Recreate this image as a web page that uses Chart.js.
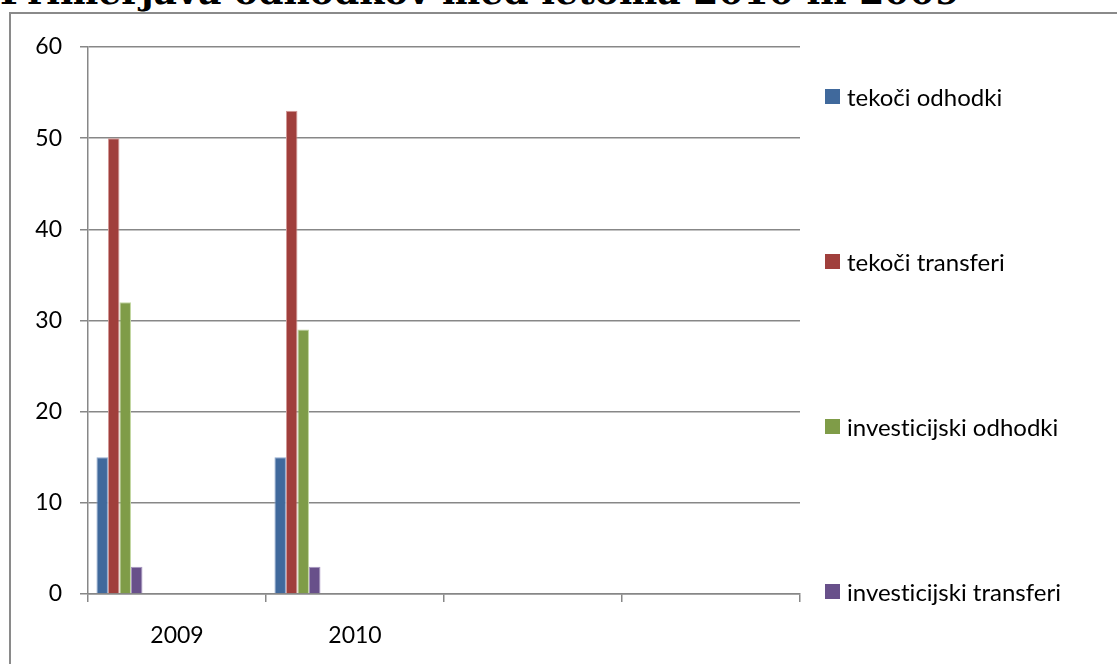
<!DOCTYPE html>
<html>
<head>
<meta charset="utf-8">
<script src="https://cdn.jsdelivr.net/npm/chart.js@4.4.1/dist/chart.umd.min.js"></script>
<style>
    html, body { margin: 0; padding: 0; background: #fff; }
    body { width: 1117px; height: 664px; position: relative; overflow: hidden; }
    #title {
        position: absolute; left: 0; top: -26px; white-space: nowrap;
        font-family: "DejaVu Serif", serif; font-weight: bold; font-size: 31px; line-height: 1;
        color: #000;
    }
    #frame {
        position: absolute; left: 9px; top: 12px; width: 1300px; height: 800px;
        border: 2px solid #8a8a8a; box-sizing: border-box; background: #fff;
    }
    #wrap { position: absolute; left: 0; top: 0; width: 1117px; height: 664px; }
    #legend {
        position: absolute; left: 825px; top: 0; font-family: Lato, sans-serif; font-size: 24px; color: #000;
        font-variant-ligatures: none; font-feature-settings: "liga" 0;
    }
    .item { position: absolute; left: 0; display: flex; align-items: center; white-space: nowrap; }
    .box { width: 15px; height: 15px; margin-right: 7px; }
</style>
</head>
<body>
<div id="title">Primerjava odhodkov med letoma 2010 in 2009</div>
<div id="frame"></div>
<div id="wrap"><canvas id="chart" width="1117" height="664"></canvas></div>
<div id="legend"></div>

<script>
// chart data
var years = ['2009', '2010', '', ''];
var tekociOdhodki = [15, 15];
var tekociTransferi = [50, 53];
var investicijskiOdhodki = [32, 29];
var investicijskiTransferi = [3, 3];
var seriesNames = ['tekoči odhodki', 'tekoči transferi', 'investicijski odhodki', 'investicijski transferi'];
var yTicks = [0, 10, 20, 30, 40, 50, 60];

var fills = ['#40699c', '#a03f3c', '#7f9c48', '#68508a'];
var edges = ['#8ea9ce', '#d39896', '#c2d6a0', '#a795c0'];
var gridColor = '#878787';

// stretch the title to the width of the original heading
(function() {
    var t = document.getElementById('title');
    var w = t.getBoundingClientRect().width;
    t.style.fontSize = (31 * 960 / w) + 'px';
})();

function $id(id) { return document.getElementById(id); }

function buildDatasets() {
    var values = [tekociOdhodki, tekociTransferi, investicijskiOdhodki, investicijskiTransferi];
    var sets = values.map(function(v, i) {
        return {
            label: seriesNames[i],
            data: v,
            backgroundColor: fills[i],
            borderColor: edges[i],
            borderWidth: 1
        };
    });
    // the source chart reserves room for more (empty) series, which pushes
    // the four real bars to the left of each category
    for (var k = 0; k < 10; k++) {
        sets.push({ label: '', data: [], backgroundColor: 'transparent' });
    }
    return sets;
}

function buildLegend() {
    var legend = $id('legend');
    seriesNames.forEach(function(name, i) {
        var item = document.createElement('div');
        item.className = 'item';
        item.style.top = (96.5 + i * 165 - 15) + 'px';
        item.innerHTML = '<span class="box" style="background:' + fills[i] + '"></span><span>' + name + '</span>';
        legend.appendChild(item);
    });
}

var tickFont = { family: 'Lato', size: 23 };

new Chart($id('chart').getContext('2d'), {
    type: 'bar',
    data: {
        labels: years,
        datasets: buildDatasets()
    },
    options: {
        responsive: false,
        animation: false,
        layout: { padding: { top: 47, right: 317, left: 0, bottom: 0 } },
        datasets: {
            bar: { barPercentage: 1, categoryPercentage: 0.905 }
        },
        scales: {
            x: {
                grid: {
                    display: true,
                    drawOnChartArea: false,
                    drawTicks: true,
                    tickLength: 8,
                    offset: true,
                    color: gridColor,
                    lineWidth: 1.5
                },
                border: { display: true, color: gridColor, width: 1.5 },
                ticks: { color: '#000', font: tickFont, padding: 20, maxRotation: 0 },
                afterFit: function(scale) { scale.height = 70; }
            },
            y: {
                min: 0,
                max: 60,
                afterBuildTicks: function(scale) {
                    scale.ticks = yTicks.map(function(v) { return { value: v }; });
                },
                grid: { color: gridColor, lineWidth: 1.5, tickLength: 8 },
                border: { display: true, color: gridColor, width: 1.5 },
                ticks: { color: '#000', font: tickFont, padding: 18 },
                afterFit: function(scale) { scale.width = 88; }
            }
        },
        plugins: {
            legend: { display: false },
            tooltip: { enabled: false }
        }
    }
});

buildLegend();
</script>
</body>
</html>
